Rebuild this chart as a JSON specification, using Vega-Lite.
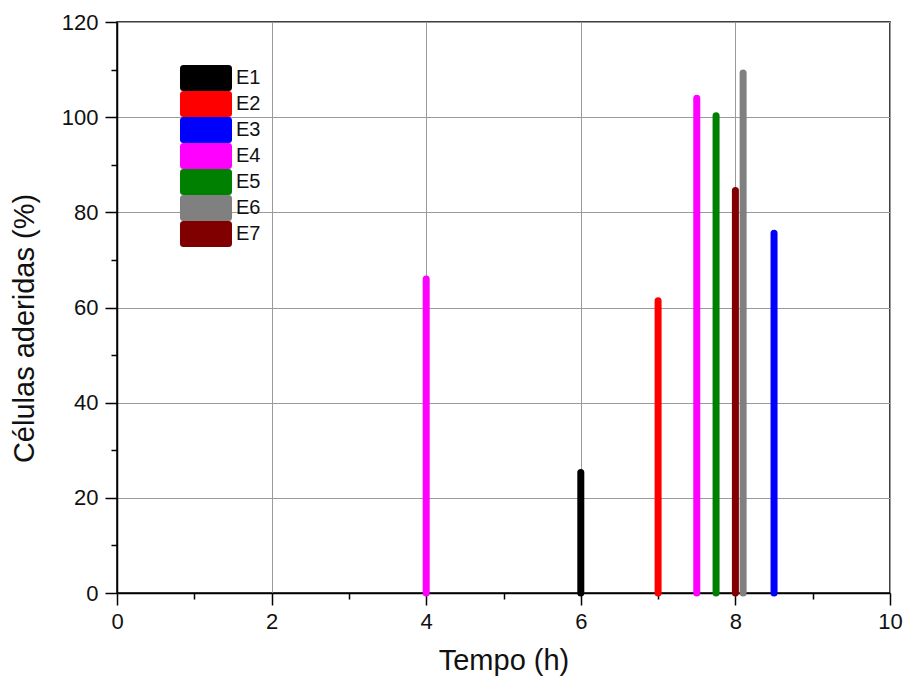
{
  "$schema": "https://vega.github.io/schema/vega-lite/v6.json",
  "autosize": "none",
  "padding": {"left": 117, "top": 22, "right": 17, "bottom": 87},
  "width": 773,
  "height": 571,
  "background": "white",
  "config": {
    "view": {"stroke": "black", "strokeWidth": 1.5},
    "font": "Liberation Sans"
  },
  "data": {
    "values": [
      {"t": 4, "v": 66, "s": "E4"},
      {"t": 6, "v": 25.3, "s": "E1"},
      {"t": 7, "v": 61.4, "s": "E2"},
      {"t": 7.5, "v": 104, "s": "E4"},
      {"t": 7.75, "v": 100.3, "s": "E5"},
      {"t": 8, "v": 84.6, "s": "E7"},
      {"t": 8.1, "v": 109.3, "s": "E6"},
      {"t": 8.5, "v": 75.6, "s": "E3"}
    ]
  },
  "mark": {"type": "rule", "strokeWidth": 7, "strokeCap": "round"},
  "encoding": {
    "x": {
      "field": "t", "type": "quantitative",
      "scale": {"domain": [0, 10], "nice": false, "zero": false},
      "axis": {
        "title": "Tempo (h)",
        "values": [0,1,2,3,4,5,6,7,8,9,10],
        "labelExpr": "datum.value % 2 === 0 ? datum.label : ''",
        "labelFlush": false,
        "labelFontSize": 22, "labelColor": "#111", "labelPadding": 6,
        "titleFontSize": 29, "titleFontWeight": "normal", "titleColor": "#111", "titlePadding": 14,
        "domainColor": "black", "domainWidth": 1.5,
        "tickColor": "black", "tickWidth": 1.5,
        "tickSize": {"condition": {"test": "datum.value % 2 === 0", "value": 12}, "value": 6},
        "gridColor": "#9a9a9a", "gridWidth": 1,
        "gridOpacity": {"condition": {"test": "datum.value % 2 === 0", "value": 1}, "value": 0}
      }
    },
    "y": {
      "field": "v", "type": "quantitative",
      "scale": {"domain": [0, 120], "nice": false},
      "axis": {
        "title": "Células aderidas (%)",
        "values": [0,10,20,30,40,50,60,70,80,90,100,110,120],
        "labelExpr": "datum.value % 20 === 0 ? datum.label : ''",
        "labelFlush": false,
        "labelFontSize": 22, "labelColor": "#111", "labelPadding": 7,
        "titleFontSize": 29, "titleFontWeight": "normal", "titleColor": "#111", "titlePadding": 22,
        "titleY": 306,
        "domainColor": "black", "domainWidth": 1.5,
        "tickColor": "black", "tickWidth": 1.5,
        "tickSize": {"condition": {"test": "datum.value % 20 === 0", "value": 12}, "value": 6},
        "gridColor": "#9a9a9a", "gridWidth": 1,
        "gridOpacity": {"condition": {"test": "datum.value % 20 === 0", "value": 1}, "value": 0}
      }
    },
    "y2": {"datum": 0},
    "color": {
      "field": "s", "type": "nominal",
      "scale": {
        "domain": ["E1","E2","E3","E4","E5","E6","E7"],
        "range": ["#000000","#ff0000","#0000ff","#ff00ff","#008000","#808080","#800000"]
      },
      "legend": {
        "title": null,
        "orient": "none",
        "legendX": 76,
        "legendY": 43,
        "padding": 0,
        "symbolType": "M-2.37,-1H2.37V1H-2.37Z",
        "symbolSize": 361,
        "symbolStrokeWidth": 7,
        "rowPadding": 0,
        "labelFontSize": 20,
        "labelColor": "#111",
        "labelOffset": 17,
        "encode": {
          "symbols": {"update": {"fill": {"scale": "color", "field": "value"}, "strokeJoin": {"value": "round"}, "opacity": {"value": 1}}}
        }
      }
    }
  }
}
